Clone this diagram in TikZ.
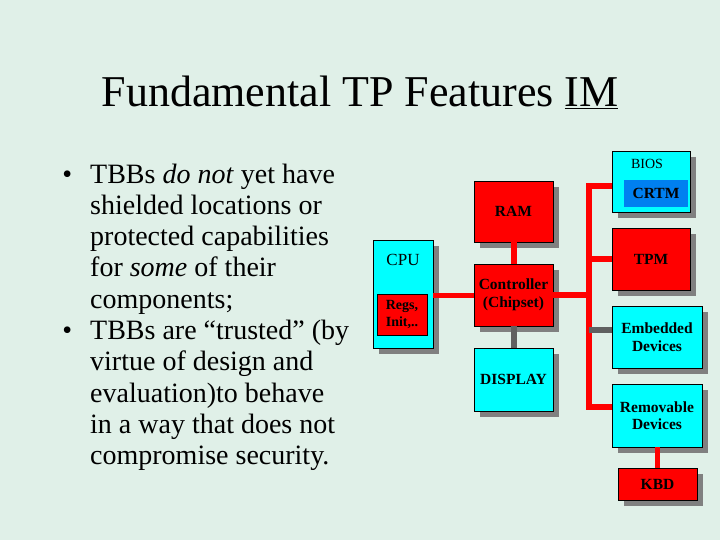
\documentclass[tikz,border=0pt]{standalone}
\usepackage{fontspec}
\setmainfont{Liberation Serif}
\usetikzlibrary{shadows}
\definecolor{bgmint}{RGB}{224,240,232}
\definecolor{boxred}{RGB}{255,0,0}
\definecolor{boxcyan}{RGB}{0,255,255}
\definecolor{crtmblue}{RGB}{0,128,240}
\definecolor{wiregray}{RGB}{96,96,96}
\definecolor{shadowgray}{RGB}{128,128,128}
\tikzset{
  sbox/.style={draw=black, line width=0.8pt, inner sep=0pt, align=center,
    drop shadow={shadow xshift=6pt, shadow yshift=-6pt, fill=shadowgray, opacity=1},
    font=\fontsize{15.5}{17.5}\selectfont\bfseries},
  redbox/.style={sbox, fill=boxred},
  cyanbox/.style={sbox, fill=boxcyan},
  redwire/.style={draw=boxred, line width=6pt, line join=miter},
  graywire/.style={draw=wiregray, line width=6pt},
  bullettext/.style={anchor=base west, inner sep=0pt, align=left,
    font=\fontsize{28}{31.3}\selectfont}
}
\begin{document}
\begin{tikzpicture}[x=1pt,y=-1pt]
\useasboundingbox (0,0) rectangle (720,540);
\fill[bgmint] (0,0) rectangle (720,540);

% title
\node[anchor=base, inner sep=0pt, font=\fontsize{44}{48}\selectfont] (title) at (360,107) {Fundamental TP Features \underline{IM}};

% bullets (anchor = baseline of the last line)
\node[bullettext] (b1) at (90,308.2) {\llap{•\hspace{18pt}}TBBs \textit{do not} yet have\\shielded locations or\\protected capabilities\\for \textit{some} of their\\components;};
\node[bullettext] (b2) at (90,464.7) {\llap{•\hspace{18pt}}TBBs are “trusted” (by\\virtue of design and\\evaluation)to behave\\in a way that does not\\compromise security.};

% bus coordinates
\coordinate (bt) at (589,186);
\coordinate (bb) at (589,407);
\coordinate (be) at (589,330);

% boxes
\node[cyanbox, minimum width=78pt, minimum height=61pt] (bios) at (651,181.5) {};
\node[cyanbox, minimum width=60pt, minimum height=108pt] (cpu) at (403,294) {};
\node[redbox, minimum width=79pt, minimum height=61pt] (ram) at (513.5,211.5) {RAM};
\node[redbox, minimum width=78pt, minimum height=62pt] (tpm) at (651,259) {TPM};
\node[redbox, minimum width=79pt, minimum height=62pt] (ctrl) at (513.5,295) {Controller\\(Chipset)};
\node[cyanbox, minimum width=90pt, minimum height=62pt] (emb) at (657,337) {Embedded\\Devices};
\node[cyanbox, minimum width=79pt, minimum height=63pt] (disp) at (513.5,379.5) {DISPLAY};
\node[cyanbox, minimum width=90pt, minimum height=63pt] (remov) at (657,415.5) {Removable\\Devices};
\node[redbox, minimum width=79pt, minimum height=32pt] (kbd) at (657.5,484) {KBD};

% connectors
\draw[redwire] (ram.south) -- (ctrl.north);
\draw[graywire] (ctrl.south) -- (disp.north);
\draw[redwire, line width=5pt] (cpu.east |- ctrl.east) -- (ctrl.west);
\draw[redwire] (ctrl.east) -- (ctrl.east -| bt);
\draw[redwire] (bios.west |- bt) -- (bt) -- (bb) -- (remov.west |- bb);
\draw[redwire] (tpm.west) -- (tpm.west -| bt);
\draw[graywire] (be) -- (be -| emb.west);
\draw[redwire, line width=5pt] (remov.south -| kbd.north) -- (kbd.north);

% inner parts
\node[anchor=center, inner sep=0pt, font=\fontsize{14}{16}\selectfont] (bioslbl) at (647,164) {BIOS};
\node[fill=crtmblue, inner sep=0pt, minimum width=64pt, minimum height=27pt, font=\fontsize{15.5}{17.5}\selectfont\bfseries] (crtm) at (656,193.5) {CRTM};
\node[anchor=center, inner sep=0pt, font=\fontsize{17}{19}\selectfont] (cpulbl) at (403,260) {CPU};
\node[draw=black, line width=0.8pt, fill=boxred, inner sep=0pt, align=center, minimum width=50pt, minimum height=41pt, font=\fontsize{14}{17}\selectfont\bfseries] (regs) at (402,314.5) {Regs,\\Init,..};
\end{tikzpicture}
\end{document}
